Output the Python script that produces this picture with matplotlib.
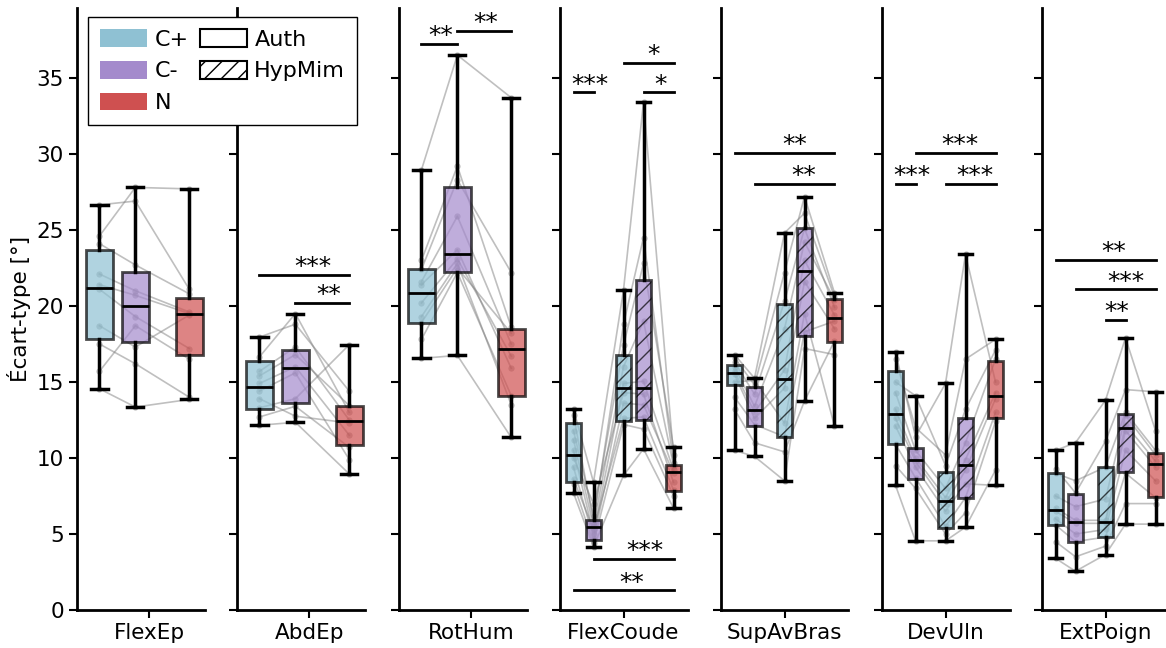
import numpy as np
import matplotlib
matplotlib.use('Agg')
import matplotlib.pyplot as plt
from matplotlib.patches import Patch

# ---- data ----
groups = ['FlexEp', 'AbdEp', 'RotHum', 'FlexCoude', 'SupAvBras', 'DevUln', 'ExtPoign']

# box stats per condition: [whislo, q1, med, q3, whishi]
flexep_box = [[14.55, 17.85, 21.2, 23.65, 26.65],
              [13.35, 17.6, 20.0, 22.25, 27.8],
              [13.85, 16.75, 19.5, 20.5, 27.7]]
abdep_box = [[12.15, 13.25, 14.7, 16.35, 17.95],
             [12.35, 13.6, 15.9, 17.1, 19.5],
             [8.95, 10.85, 12.4, 13.45, 17.45]]
rothum_box = [[16.55, 18.9, 20.85, 22.4, 28.95],
              [16.75, 22.25, 23.45, 27.8, 36.5],
              [11.35, 14.1, 17.15, 18.5, 33.7]]
flexcoude_box = [[7.7, 8.4, 10.2, 12.3, 13.2],
                 [4.15, 4.6, 5.45, 5.95, 8.4],
                 [8.85, 12.45, 14.6, 16.8, 21.05],
                 [10.6, 12.5, 14.6, 21.7, 33.4],
                 [6.7, 7.8, 9.1, 9.55, 10.7]]
supavbras_box = [[10.5, 14.8, 15.6, 16.1, 16.8],
                 [10.1, 12.1, 13.15, 14.7, 15.25],
                 [8.5, 11.35, 15.2, 20.1, 24.8],
                 [13.75, 18.0, 22.3, 25.1, 27.2],
                 [12.1, 17.6, 19.2, 20.45, 20.85]]
devuln_box = [[8.2, 10.9, 12.9, 15.7, 16.95],
              [4.55, 8.65, 9.9, 10.65, 14.1],
              [4.55, 5.4, 7.2, 9.1, 14.9],
              [5.45, 7.35, 9.55, 12.6, 23.4],
              [8.2, 12.65, 14.1, 16.4, 17.8]]
extpoign_box = [[3.4, 5.6, 6.6, 9.0, 10.5],
                [2.55, 4.45, 5.8, 7.6, 11.0],
                [3.65, 4.8, 5.8, 9.4, 13.8],
                [5.65, 9.05, 12.0, 12.9, 17.9],
                [5.65, 7.45, 9.6, 10.3, 14.35]]

# individual subjects (same order of subjects in every condition)
flexep_pts = [[26.65, 24.6, 24.1, 22.1, 21.4, 21.1, 18.7, 17.5, 15.7, 14.55],
              [26.9, 27.8, 22.7, 21.0, 20.7, 19.3, 17.3, 16.2, 18.7, 13.35],
              [21.1, 27.7, 20.8, 19.6, 19.5, 17.2, 19.4, 14.0, 16.5, 13.85]]
abdep_pts = [[17.95, 16.65, 15.7, 15.4, 14.9, 14.4, 13.9, 13.3, 12.7, 12.15],
             [18.8, 19.5, 17.3, 16.8, 16.0, 15.6, 12.75, 13.9, 13.4, 12.35],
             [14.4, 13.0, 12.5, 13.45, 11.5, 9.9, 12.3, 17.45, 10.7, 8.95]]
rothum_pts = [[28.95, 23.0, 22.4, 21.6, 21.4, 20.2, 19.3, 18.9, 17.8, 16.55],
              [36.5, 29.2, 28.3, 25.9, 23.7, 23.1, 22.8, 22.5, 22.2, 16.75],
              [33.7, 18.6, 22.2, 17.5, 15.9, 16.7, 13.5, 18.2, 14.1, 11.35]]
flexcoude_pts = [[13.2, 12.8, 11.8, 11.2, 10.5, 10.0, 9.4, 8.6, 8.3, 7.7],
                 [8.4, 5.8, 6.2, 5.5, 5.0, 7.0, 4.7, 5.3, 4.4, 4.15],
                 [21.05, 18.8, 17.4, 16.0, 14.9, 14.3, 13.6, 12.6, 12.2, 8.85],
                 [33.4, 24.5, 22.8, 19.0, 15.05, 14.2, 13.5, 12.7, 11.9, 10.6],
                 [10.2, 9.7, 10.7, 9.5, 9.2, 8.4, 9.0, 7.9, 7.5, 6.7]]
supavbras_pts = [[16.8, 16.6, 16.3, 16.0, 15.7, 15.5, 15.0, 14.0, 13.2, 10.5],
                 [15.25, 14.8, 14.2, 13.4, 13.0, 12.6, 15.1, 12.2, 11.0, 10.1],
                 [24.8, 22.2, 20.3, 18.5, 15.8, 14.6, 12.3, 11.4, 10.4, 8.5],
                 [26.1, 27.2, 25.1, 24.2, 23.0, 21.6, 19.5, 18.3, 13.75, 17.2],
                 [20.6, 20.85, 19.9, 20.4, 19.4, 18.5, 12.1, 19.0, 17.7, 16.8]]
devuln_pts = [[16.95, 16.5, 15.0, 14.3, 13.2, 12.6, 12.1, 10.9, 9.5, 8.2],
              [11.4, 12.0, 14.1, 10.5, 10.0, 9.8, 9.4, 8.7, 8.0, 4.55],
              [14.9, 10.2, 9.5, 8.0, 7.4, 7.0, 6.5, 5.5, 5.0, 4.55],
              [23.4, 16.5, 13.2, 11.0, 9.9, 9.2, 8.3, 7.4, 6.4, 5.45],
              [15.0, 17.8, 17.1, 16.5, 14.3, 13.9, 8.2, 13.0, 12.4, 9.2]]
extpoign_pts = [[10.5, 9.3, 9.0, 7.5, 6.7, 6.5, 6.0, 5.6, 4.5, 3.4],
                [11.0, 7.7, 8.5, 6.8, 5.9, 5.7, 5.0, 4.5, 3.5, 2.55],
                [13.8, 11.1, 9.4, 7.3, 5.9, 5.7, 5.3, 4.8, 4.2, 3.65],
                [17.9, 14.5, 13.0, 12.8, 12.2, 11.8, 10.5, 9.0, 7.0, 5.65],
                [11.8, 14.35, 10.5, 10.2, 9.8, 9.4, 8.5, 7.4, 7.0, 5.65]]

# conditions shown in each panel
cond3 = ['C+', 'C-', 'N']
cond5 = ['C+', 'C-', 'C+H', 'C-H', 'N']

# significance: (box i, box j, height, label)
abdep_sig = [(0, 2, 22.06, '***'), (1, 2, 20.2, '**')]
rothum_sig = [(0, 1, 37.25, '**'), (1, 2, 38.08, '**')]
flexcoude_sig = [(0, 1, 34.05, '***'), (2, 4, 36.0, '*'), (3, 4, 34.05, '*'),
                 (1, 4, 3.35, '***'), (0, 4, 1.3, '**')]
supavbras_sig = [(0, 4, 30.07, '**'), (1, 4, 28.04, '**')]
devuln_sig = [(1, 4, 30.07, '***'), (0, 1, 28.04, '***'), (2, 4, 28.04, '***')]
extpoign_sig = [(0, 4, 23.05, '**'), (1, 4, 21.1, '***'), (2, 3, 19.1, '**')]

all_box = [flexep_box, abdep_box, rothum_box, flexcoude_box, supavbras_box, devuln_box, extpoign_box]
all_pts = [flexep_pts, abdep_pts, rothum_pts, flexcoude_pts, supavbras_pts, devuln_pts, extpoign_pts]
all_sig = [[], abdep_sig, rothum_sig, flexcoude_sig, supavbras_sig, devuln_sig, extpoign_sig]

# ---- style ----
colors = {'C+': '#8fc1d3', 'C-': '#a48acc', 'N': '#cf5050'}
colors['C+H'] = colors['C+']
colors['C-H'] = colors['C-']
pos3 = [0, 0.4, 1.0]
pos5 = [0, 0.4, 1.0, 1.4, 2.0]
# text x of the star labels, per panel
star_x = [[], [0.60, 0.77], [0.21, 0.72], [0.33, 1.59, 1.74, 1.43, 1.17],
          [1.21, 1.38], [1.29, 0.33, 1.58], [1.16, 1.40, 1.23]]

FS = 15.5
W, H = 1166, 648
fig = plt.figure(figsize=(W / 100, H / 100), dpi=100)

lefts = [77, 237, 399, 560, 721, 882, 1042]
for k, name in enumerate(groups):
    ax = fig.add_axes([lefts[k] / W, 38 / H, 127.5 / W, 602 / H])
    boxes = all_box[k]
    pts = all_pts[k]
    if len(boxes) == 3:
        pos, conds = pos3, cond3
        ax.set_xlim(-0.25, 1.17)
        tick = 0.556
        cw = 0.18
    else:
        pos, conds = pos5, cond5
        ax.set_xlim(-0.27, 2.28)
        tick = 1.0
        cw = 0.27

    # subject lines
    arr = np.array(pts)
    for s in range(arr.shape[1]):
        ax.plot(pos, arr[:, s], color='gray', alpha=0.5, lw=1.2, marker='o', ms=4.5,
                mec='none', zorder=1)

    stats = [dict(whislo=b[0], q1=b[1], med=b[2], q3=b[3], whishi=b[4], fliers=[]) for b in boxes]
    bp = ax.bxp(stats, positions=pos, widths=0.3, capwidths=cw, patch_artist=True,
                showfliers=False, manage_ticks=False,
                boxprops=dict(lw=2, edgecolor='black'),
                medianprops=dict(color='black', lw=2),
                whiskerprops=dict(color='black', lw=2.5),
                capprops=dict(color='black', lw=2.5))
    for patch, c in zip(bp['boxes'], conds):
        patch.set_facecolor(colors[c])
        patch.set_alpha(0.7)
        if c.endswith('H'):
            patch.set_hatch('//')
    for m in bp['medians']:
        m.set_zorder(4)

    for (i, j, y, lab), tx in zip(all_sig[k], star_x[k]):
        ax.plot([pos[i], pos[j]], [y, y], color='black', lw=2, zorder=5)
        ax.annotate(lab, xy=(tx, y), xytext=(0, 0.5), textcoords='offset points',
                    ha='center', va='baseline', fontsize=18)

    ax.set_ylim(0, 39.6)
    ax.set_yticks(range(0, 40, 5))
    ax.set_xticks([tick])
    ax.set_xticklabels([name], fontsize=FS)
    ax.tick_params(axis='both', width=1.5, length=6, labelsize=FS)
    for sp in ['top', 'right']:
        ax.spines[sp].set_visible(False)
    for sp in ['left', 'bottom']:
        ax.spines[sp].set_linewidth(2)
    if k == 0:
        ax.set_ylabel('Écart-type [°]', fontsize=FS)
    else:
        ax.tick_params(labelleft=False)

handles = [Patch(facecolor=colors['C+'], label='C+'),
           Patch(facecolor=colors['C-'], label='C-'),
           Patch(facecolor=colors['N'], label='N'),
           Patch(facecolor='white', edgecolor='black', lw=1.5, label='Auth'),
           Patch(facecolor='white', edgecolor='black', lw=1.5, hatch='//', label='HypMim'),
           Patch(facecolor='none', edgecolor='none', label='')]
leg = fig.legend(handles=handles, ncol=2, loc='upper left',
                 bbox_to_anchor=(88 / W, 1 - 17 / H), borderaxespad=0,
                 fontsize=16, fancybox=False, framealpha=1, edgecolor='black',
                 handletextpad=0.35, columnspacing=0.5, labelspacing=0.5,
                 borderpad=0.55, handlelength=2.1, handleheight=0.85)
leg.get_frame().set_linewidth(1.0)

fig.savefig('out.png', dpi=100)
